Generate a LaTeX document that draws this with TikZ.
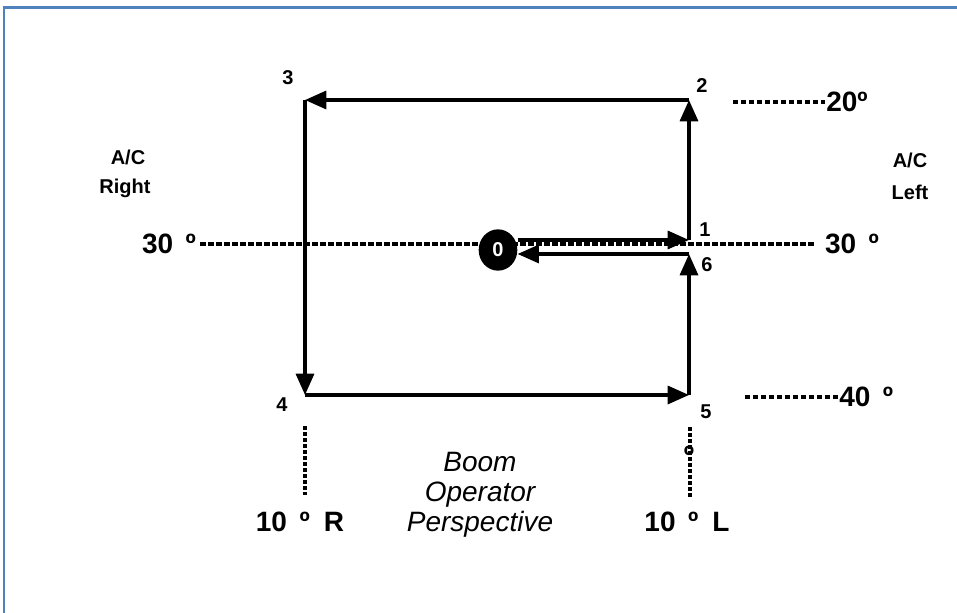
\documentclass[tikz,border=0pt]{standalone}
\usepackage{fontspec}
\setmainfont{Liberation Sans}
\usetikzlibrary{arrows.meta,shapes.geometric}
\definecolor{frameblue}{RGB}{79,129,189}

\begin{document}
\begin{tikzpicture}[x=0.75pt,y=-0.75pt,>={Triangle[length=16pt,width=13.5pt]},
  leg/.style={line width=2.5pt,->},
  hdots/.style={line width=3pt,dash pattern=on 4pt off 2pt},
  vdots/.style={line width=3pt,dash pattern=on 2.7pt off 1.8pt},
  num/.style={font=\bfseries\fontsize{15}{17}\selectfont,inner sep=0pt},
  big/.style={font=\bfseries\fontsize{21}{24}\selectfont,inner sep=0pt},
  side/.style={font=\bfseries\fontsize{15}{18}\selectfont,inner sep=0pt}]
\useasboundingbox (0,0) rectangle (957,613);
\draw[frameblue,line width=1.8pt] (4,613) -- (4,7.5) -- (957,7.5);

% turning points of the pattern
\coordinate (P1) at (689,240);
\coordinate (P2) at (689,100);
\coordinate (P3) at (305,100);
\coordinate (P4) at (305,395);
\coordinate (P5) at (689,395);
\coordinate (P6) at (689,254);

% angle labels
\node[big] (L30) at (169,244) {30\hspace{.45em}º};
\node[big] (R30) at (852,244) {30\hspace{.45em}º};
\node[big,anchor=west] (T20) at (826,102) {20º};
\node[big,anchor=west] (B40) at (839,397) {40\hspace{.45em}º};
\node[big] (D10R) at (300,522) {10\hspace{.45em}º\hspace{.5em}R};
\node[big] (D10L) at (687,522) {10\hspace{.45em}º\hspace{.5em}L};
\node[big] (Dg5) at (689,456) {º};

\node[side] (ACr) at (128,157) {A/C};
\node[side] (Rt) at (125,188) {Right};
\node[side] (ACl) at (910,160) {A/C};
\node[side] (Lf) at (910,192) {Left};

\node[font=\itshape\fontsize{21}{22.5}\selectfont,align=center,inner sep=0pt] (Boom) at (480,495) {Boom\\Operator\\Perspective};

% dotted reference lines
\coordinate (T20a) at (733,102);
\coordinate (B40a) at (745,397);
\coordinate (V4a) at (305,426);
\coordinate (V4b) at (305,495);
\coordinate (V5a) at (690,427);
\coordinate (V5b) at (690,497);
\draw[hdots,shorten <=3pt,shorten >=7pt] (L30.east) -- (R30.west);
\draw[hdots,shorten >=1pt] (T20a) -- (T20.west);
\draw[hdots,shorten >=1pt] (B40a) -- (B40.west);
\draw[vdots] (V4a) -- (V4b);
\draw[vdots] (V5a) -- (V5b);

\node[ellipse,fill=black,minimum width=29pt,minimum height=31pt,inner sep=0pt,
  text=white,font=\bfseries\fontsize{15}{15}\selectfont] (zero) at (498,250) {0};

% point numbers
\node[num] (N1) at (705,230) {1};
\node[num] (N2) at (702,86) {2};
\node[num] (N3) at (288,78) {3};
\node[num] (N4) at (282,405) {4};
\node[num] (N5) at (706,412) {5};
\node[num] (N6) at (707,265) {6};

% flight path
\draw[leg] (zero.east |- P1) -- (P1);
\draw[leg] (P1) -- (P2);
\draw[leg] (P2) -- (P3);
\draw[leg] (P3) -- (P4);
\draw[leg] (P4) -- (P5);
\draw[leg] (P5) -- (P6);
\draw[leg] (P6) -- (zero.east |- P6);
\end{tikzpicture}
\end{document}
